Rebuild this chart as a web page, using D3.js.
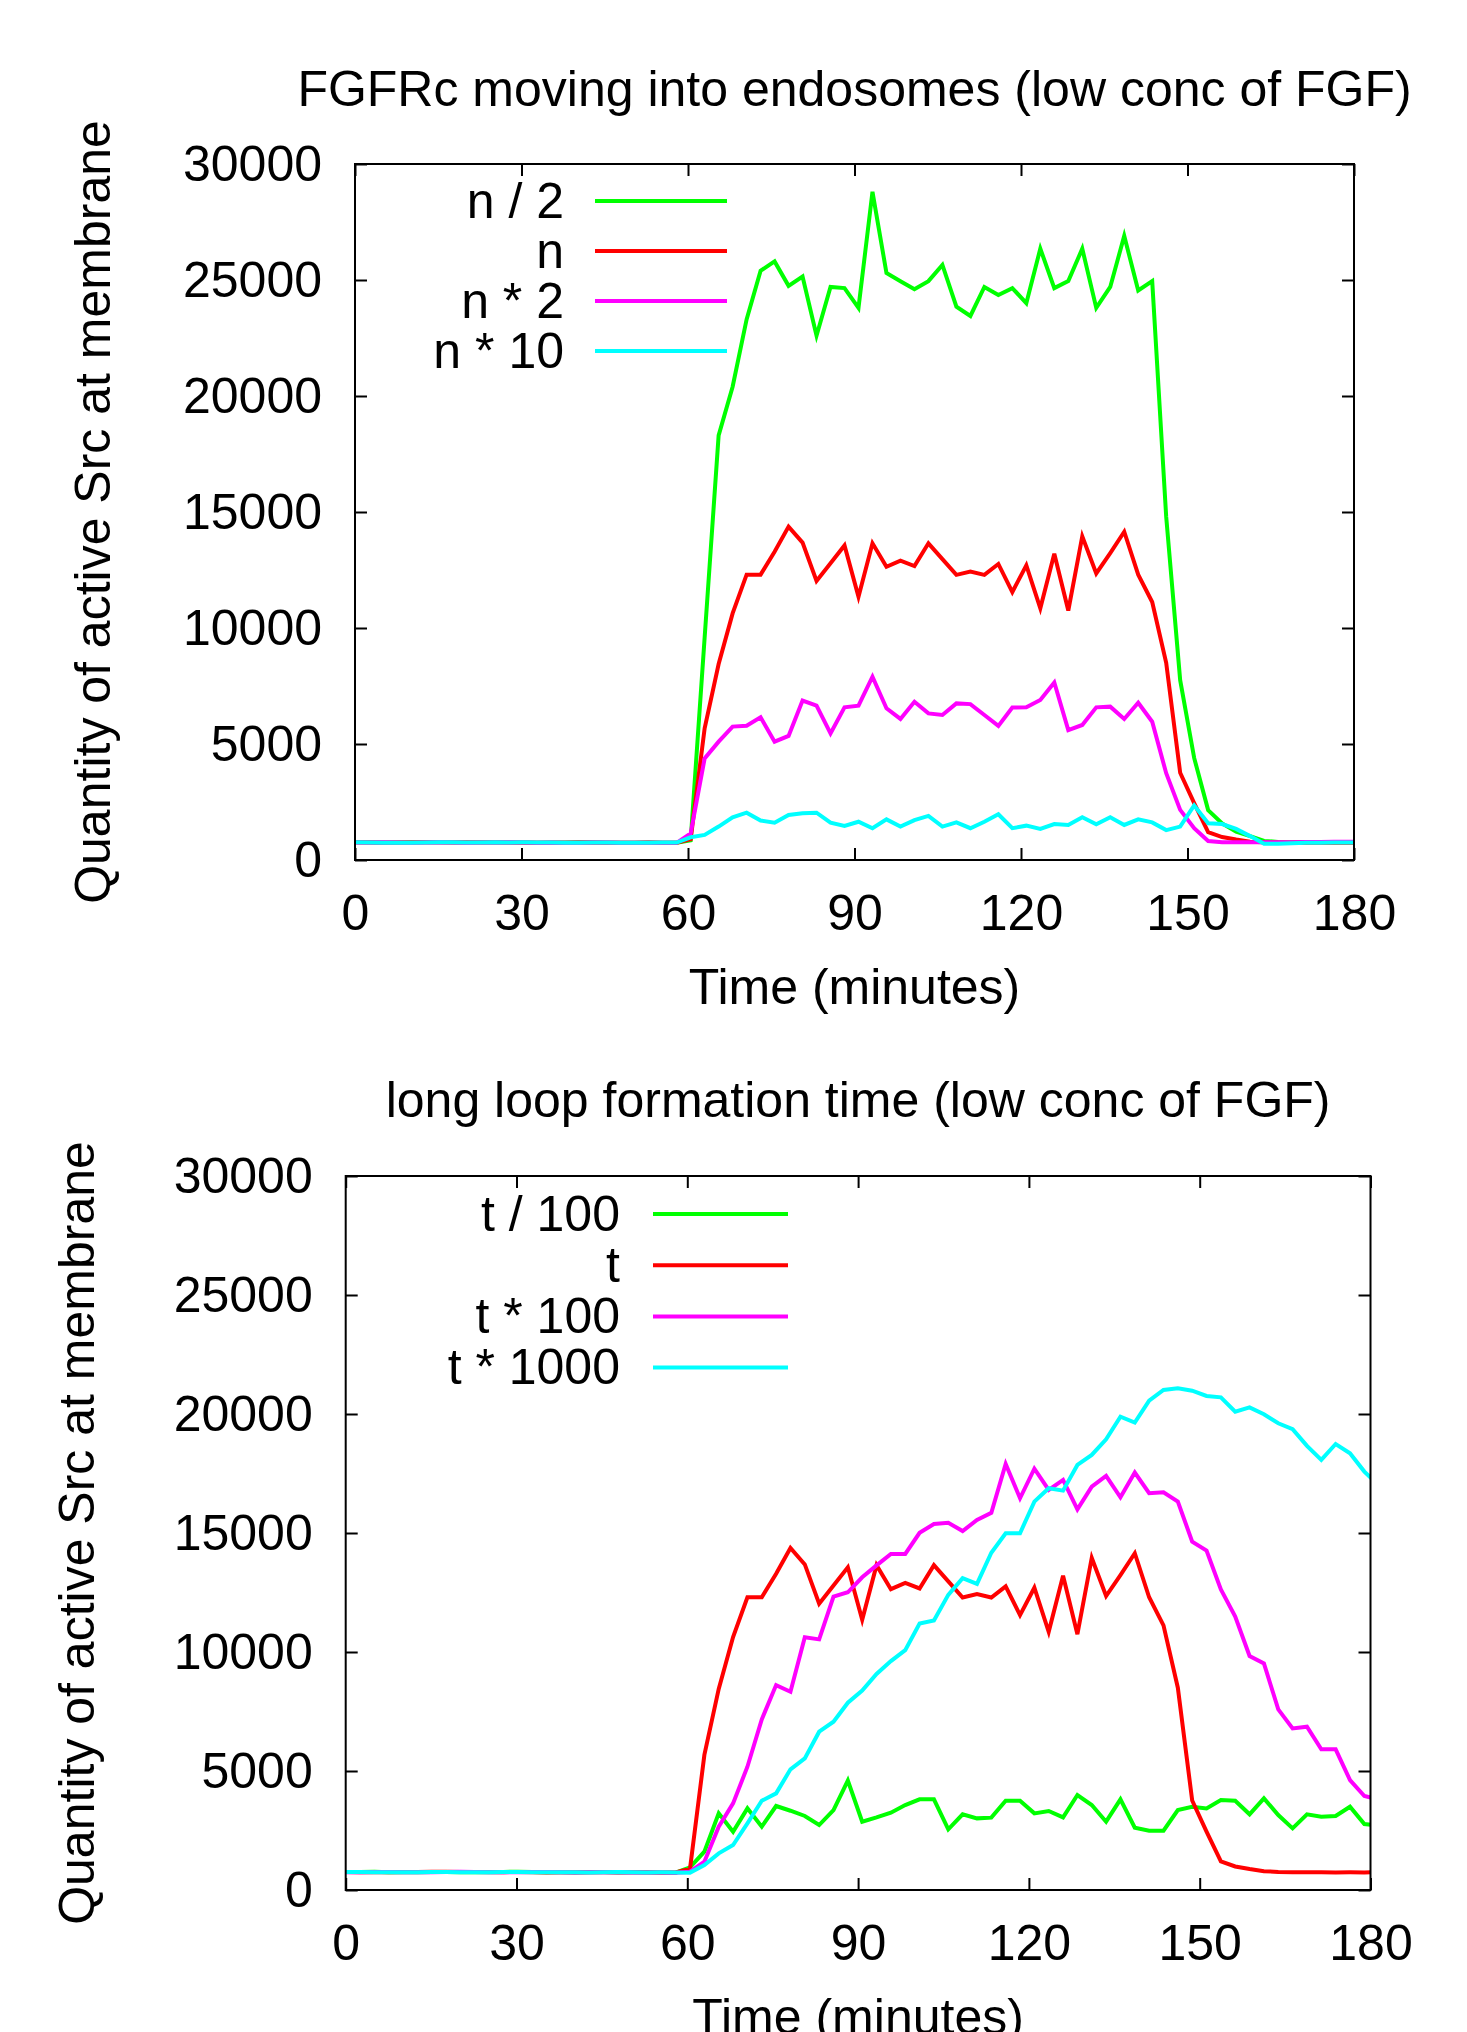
<!DOCTYPE html>
<html>
<head>
<meta charset="utf-8">
<script src="https://cdn.jsdelivr.net/npm/d3@7"></script>
<style>
  body { margin: 0; background: #fff; }
  svg { display: block; }
  text { font-family: 'Liberation Sans', Arial, Helvetica, sans-serif; fill: #000; }
</style>
</head>
<body>
<svg id="chart" width="1467" height="2032"></svg>
<script>
// sampling grid of the simulation output (minutes)
const stepMinutes = 2.52
const times = d3.range(73).map(i => i * stepMinutes)

const xTicks = [0, 30, 60, 90, 120, 150, 180]
const yTicks = [0, 5000, 10000, 15000, 20000, 25000, 30000]

// baseline run (n / t), shared by both panels
const baseRun = [
  760, 750, 745, 750, 755, 760, 765, 770, 760, 755, 760, 750, 755, 745, 740, 745, 750, 760, 750, 740, 745, 750, 740,
  740, 900, 5675, 8450, 10630, 12300, 12300, 13290, 14370, 13680, 12030, 12790, 13560, 11350, 13650, 12640, 12900,
  12670, 13650, 12970, 12290, 12430, 12290, 12760, 11550, 12700, 10850, 13200, 10750, 13950, 12350, 13230, 14150,
  12300, 11120, 8500, 3760, 2450, 1200, 990, 880, 790, 760, 750, 745, 750, 740, 745, 740, 745
]

// top panel: FGFRc moving into endosomes
const nHalf = [
  770, 760, 750, 755, 760, 765, 760, 755, 750, 760, 765, 755, 750, 745, 750, 755, 760, 750, 745, 740, 745, 750, 745,
  740, 850, 9600, 18300, 20400, 23300, 25400, 25800, 24750, 25150, 22600, 24700, 24650, 23800, 28800, 25300, 24950,
  24600, 24950, 25650, 23850, 23450, 24700, 24350, 24650, 24000, 26350, 24650, 24950, 26350, 23800, 24700, 26900,
  24550, 24950, 14800, 7750, 4400, 2150, 1580, 1220, 1030, 820, 780, 770, 780, 770, 760, 760, 760
]
const nDouble = [
  750, 755, 760, 750, 745, 755, 760, 750, 745, 750, 755, 760, 750, 745, 750, 740, 745, 750, 755, 745, 740, 745, 740,
  740, 1150, 4380, 5100, 5750, 5790, 6150, 5100, 5350, 6870, 6650, 5460, 6580, 6650, 7900, 6540, 6080,
  6820, 6320, 6250, 6750, 6720, 6250, 5780, 6570, 6580, 6900, 7650, 5600, 5820, 6580, 6610, 6080,
  6780, 5960, 3740, 2160, 1370, 820, 770, 760, 760, 760, 770, 770, 780, 780, 790, 790, 790
]
const nTen = [
  765, 755, 745, 740, 745, 750, 760, 760, 755, 750, 760, 755, 760, 755, 750, 745, 745, 750, 750, 740, 740, 745, 750,
  750, 980, 1080, 1440, 1840, 2040, 1700, 1610, 1940, 2010, 2040, 1610, 1470, 1650, 1370, 1750, 1440,
  1720, 1900, 1440, 1620, 1370, 1650, 1970, 1370, 1480, 1340, 1550, 1510, 1840, 1540, 1840, 1510,
  1750, 1620, 1290, 1440, 2350, 1580, 1550, 1340, 1030, 700, 700, 720, 740, 740, 750, 750, 750
]

// bottom panel: long loop formation time
const tHundredth = [
  755, 760, 765, 750, 745, 750, 760, 755, 750, 745, 750, 760, 765, 755, 750, 745, 740, 750, 755, 750, 745, 740, 740,
  730, 950, 1610, 3220, 2450, 3430, 2660, 3530, 3330, 3110, 2730, 3360, 4600, 2870, 3050, 3250, 3570,
  3810, 3810, 2550, 3180, 3010, 3040, 3750, 3750, 3220, 3320, 3050, 3990, 3570, 2870, 3810, 2620,
  2490, 2490, 3360, 3500, 3430, 3780, 3750, 3180, 3850, 3150, 2590, 3180, 3080, 3110, 3500, 2770, 2700
]
const tHundred = [
  750, 745, 755, 760, 750, 745, 750, 755, 765, 760, 750, 745, 750, 760, 755, 745, 740, 745, 750, 745, 740, 735, 735,
  730, 770, 1190, 2660, 3640, 5180, 7170, 8610, 8330, 10620, 10530, 12330, 12510, 13140, 13640, 14120, 14120,
  15010, 15380, 15430, 15080, 15550, 15850, 17900, 16460, 17700, 16810, 17230, 15990, 16950, 17400, 16500, 17540,
  16670, 16710, 16320, 14640, 14260, 12630, 11490, 9830, 9520, 7590, 6790, 6860, 5910, 5910, 4620, 3950, 3800
]
const tThousand = [
  760, 755, 750, 750, 745, 750, 755, 760, 750, 745, 750, 755, 760, 750, 745, 750, 745, 740, 750, 755, 745, 740, 745,
  740, 730, 1050, 1540, 1890, 2800, 3750, 4060, 5070, 5530, 6650, 7070, 7870, 8380, 9080, 9620, 10080,
  11200, 11320, 12400, 13100, 12860, 14170, 14990, 14990, 16320, 16880, 16780, 17860, 18280, 18940, 19890, 19640,
  20560, 21010, 21080, 20980, 20760, 20700, 20100, 20280, 19990, 19610, 19360, 18660, 18070, 18740, 18350, 17580, 17000
]

const topLabels = ['n / 2', 'n', 'n * 2', 'n * 10']
const bottomLabels = ['t / 100', 't', 't * 100', 't * 1000']
const lineColors = ['#00ff00', '#ff0000', '#ff00ff', '#00ffff']

const svg = d3.select('#chart')
const fontSize = 50

function renderPanel (p) {
  const g = svg.append('g')

  const x = d3.scaleLinear().domain([0, 180]).range([p.left, p.right])
  const y = d3.scaleLinear().domain([0, 30000]).range([p.bottom, p.top])

  // ticks on all four sides, pointing inward
  const tickLen = 12
  const axes = [
    { ax: d3.axisBottom(x).tickValues(xTicks).tickSize(-tickLen).tickPadding(34), at: `translate(0,${p.bottom})` },
    { ax: d3.axisTop(x).tickValues(xTicks).tickSize(-tickLen).tickFormat(''), at: `translate(0,${p.top})` },
    { ax: d3.axisLeft(y).tickValues(yTicks).tickSize(-tickLen).tickPadding(33).tickFormat(d3.format('d')), at: `translate(${p.left},0)` },
    { ax: d3.axisRight(y).tickValues(yTicks).tickSize(-tickLen).tickFormat(''), at: `translate(${p.right},0)` }
  ]
  axes.forEach(a => {
    const sel = g.append('g').attr('transform', a.at).call(a.ax)
    sel.select('.domain').remove()
    sel.selectAll('line').attr('stroke', '#000').attr('stroke-width', 2)
    sel.selectAll('text')
      .style('font-family', "'Liberation Sans', Arial, sans-serif")
      .style('font-size', fontSize + 'px')
      .attr('fill', '#000')
  })

  const clipId = 'clip-' + p.id
  g.append('clipPath').attr('id', clipId)
    .append('rect')
    .attr('x', p.left).attr('y', p.top)
    .attr('width', p.right - p.left).attr('height', p.bottom - p.top)

  const line = d3.line()
    .x((d, i) => x(times[i]))
    .y(d => y(d))

  p.series.forEach((s, i) => {
    g.append('path')
      .datum(s)
      .attr('clip-path', `url(#${clipId})`)
      .attr('fill', 'none')
      .attr('stroke', lineColors[i])
      .attr('stroke-width', 4)
      .attr('d', line)
  })

  // border box
  g.append('rect')
    .attr('x', p.left).attr('y', p.top)
    .attr('width', p.right - p.left).attr('height', p.bottom - p.top)
    .attr('fill', 'none')
    .attr('stroke', '#000')
    .attr('stroke-width', 2)

  // legend
  p.labels.forEach((lab, i) => {
    const ly = p.legendY + i * p.legendStep
    g.append('text')
      .attr('x', p.legendTextX)
      .attr('y', ly)
      .attr('dy', '0.33em')
      .attr('text-anchor', 'end')
      .style('font-size', fontSize + 'px')
      .text(lab)
    g.append('line')
      .attr('x1', p.legendLine[0]).attr('x2', p.legendLine[1])
      .attr('y1', ly).attr('y2', ly)
      .attr('stroke', lineColors[i])
      .attr('stroke-width', 4)
  })

  const cx = (p.left + p.right) / 2
  g.append('text')
    .attr('x', cx).attr('y', p.titleY)
    .attr('text-anchor', 'middle')
    .style('font-size', fontSize + 'px')
    .text(p.title)

  g.append('text')
    .attr('x', cx).attr('y', p.bottom + 144)
    .attr('text-anchor', 'middle')
    .style('font-size', fontSize + 'px')
    .text('Time (minutes)')

  g.append('text')
    .attr('transform', `translate(${p.yLabelX},${(p.top + p.bottom) / 2}) rotate(-90)`)
    .attr('text-anchor', 'middle')
    .style('font-size', fontSize + 'px')
    .text('Quantity of active Src at membrane')
}

renderPanel({
  id: 'top',
  left: 355, right: 1354, top: 164, bottom: 860,
  title: 'FGFRc moving into endosomes (low conc of FGF)',
  titleY: 106,
  yLabelX: 110,
  series: [nHalf, baseRun, nDouble, nTen],
  labels: topLabels,
  legendTextX: 564, legendLine: [595, 727], legendY: 201, legendStep: 50
})

renderPanel({
  id: 'bottom',
  left: 345.7, right: 1370.5, top: 1176, bottom: 1890,
  title: 'long loop formation time (low conc of FGF)',
  titleY: 1117,
  yLabelX: 94,
  series: [tHundredth, baseRun, tHundred, tThousand],
  labels: bottomLabels,
  legendTextX: 620, legendLine: [653, 788], legendY: 1214, legendStep: 51.2
})
</script>
</body>
</html>
